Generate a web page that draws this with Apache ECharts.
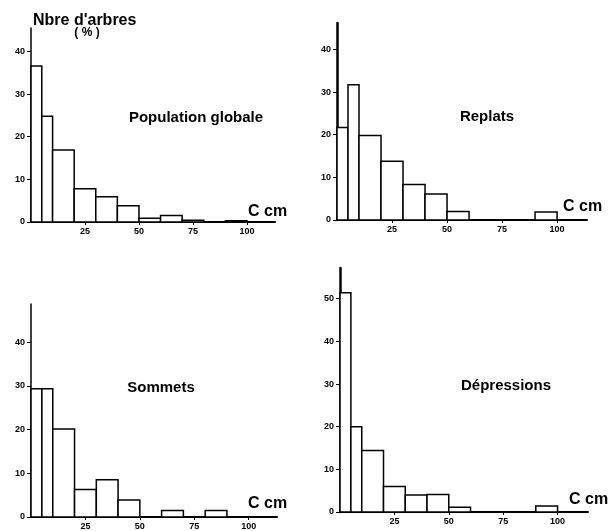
<!DOCTYPE html>
<html>
<head>
<meta charset="utf-8">
<script src="https://cdn.jsdelivr.net/npm/echarts@6/dist/echarts.min.js"></script>
<style>
html, body { margin: 0; padding: 0; background: #fff; }
#main { width: 608px; height: 531px; }
</style>
</head>
<body>
<div id="main"></div>
<script>
// classes de circonference (cm)
var binStart = [0, 5, 10, 20, 30, 40, 50, 60, 70, 80, 90];
var binEnd = [5, 10, 20, 30, 40, 50, 60, 70, 80, 90, 100];
// % d'arbres par classe
var globale = [36.6, 24.8, 16.9, 7.8, 5.9, 3.8, 0.9, 1.5, 0.4, 0, 0.3];
var replats = [21.7, 31.7, 19.8, 13.8, 8.3, 6.1, 2.0, 0, 0, 0, 1.9];
var sommets = [29.3, 29.3, 20.1, 6.3, 8.5, 3.9, 0, 1.5, 0, 1.5, 0];
var depressions = [51.4, 20.0, 14.4, 6.0, 4.0, 4.1, 1.1, 0, 0, 0, 1.4];
var xTicks = [25, 50, 75, 100];
var yTicks = [0, 10, 20, 30, 40];
var yTicksDep = [0, 10, 20, 30, 40, 50];
var panelNames = ['Population globale', 'Replats', 'Sommets', 'Dépressions'];

var font = '"Liberation Sans", Arial, sans-serif';
var panels = [globale, replats, sommets, depressions];
var grids = [
	{left: 31, top: 28, width: 244, height: 194},
	{left: 337, top: 23, width: 250, height: 197},
	{left: 31, top: 304, width: 246, height: 213},
	{left: 340, top: 268, width: 248, height: 244}
];
var yMax = [45.5, 46.2, 48.7, 57.2];
var xMax = [113, 113.6, 113, 114];
var yLineWidth = [1.5, 2.5, 1.5, 2.5];

function renderBin(params, api) {
	var p0 = api.coord([api.value(0), api.value(2)]);
	var p1 = api.coord([api.value(1), 0]);
	return {
		type: 'rect',
		shape: {x: p0[0], y: p0[1], width: p1[0] - p0[0], height: p1[1] - p0[1]},
		style: {fill: '#fff', stroke: '#000', lineWidth: 1.5}
	};
}

var xAxes = [], yAxes = [], series = [];
for (var i = 0; i < 4; i++) {
	var ticks = i == 3 ? yTicksDep : yTicks;
	xAxes.push({
		gridIndex: i,
		type: 'value',
		min: 0,
		max: xMax[i],
		axisLine: {show: true, onZero: false, lineStyle: {color: '#000', width: 2}},
		axisTick: {show: true, customValues: xTicks, length: 3, lineStyle: {color: '#000', width: 1}},
		axisLabel: {customValues: xTicks, color: '#000', fontSize: 9, fontWeight: 'bold', fontFamily: font, margin: 5},
		splitLine: {show: false}
	});
	yAxes.push({
		gridIndex: i,
		type: 'value',
		min: 0,
		max: yMax[i],
		axisLine: {show: true, onZero: false, lineStyle: {color: '#000', width: yLineWidth[i]}},
		axisTick: {show: true, customValues: ticks, length: 4, lineStyle: {color: '#000', width: 1}},
		axisLabel: {customValues: ticks, color: '#000', fontSize: 9, fontWeight: 'bold', fontFamily: font, margin: 6},
		splitLine: {show: false}
	});
	var data = [];
	for (var j = 0; j < binStart.length; j++) {
		data.push([binStart[j], binEnd[j], panels[i][j]]);
	}
	series.push({
		name: panelNames[i],
		type: 'custom',
		xAxisIndex: i,
		yAxisIndex: i,
		renderItem: renderBin,
		encode: {x: [0, 1], y: 2},
		data: data,
		clip: false,
		silent: true,
		z: 1
	});
}

function txt(s, x, y, size, align) {
	return {
		type: 'text',
		x: x,
		y: y,
		z: 10,
		style: {
			text: s,
			fill: '#000',
			font: 'bold ' + size + 'px ' + font,
			textAlign: align || 'center',
			textVerticalAlign: 'middle'
		}
	};
}

var myChart = echarts.init(document.getElementById('main'));
var option = {
	backgroundColor: '#fff',
	animation: false,
	grid: grids,
	xAxis: xAxes,
	yAxis: yAxes,
	series: series,
	graphic: [
		txt("Nbre d'arbres", 33, 21, 16, 'left'),
		txt('( % )', 87, 33, 12),
		txt(panelNames[0], 196, 118, 15),
		txt(panelNames[1], 487, 117, 15),
		txt(panelNames[2], 161, 388, 15),
		txt(panelNames[3], 506, 386, 15),
		txt('C cm', 248, 212, 16, 'left'),
		txt('C cm', 563, 207, 16, 'left'),
		txt('C cm', 248, 504, 16, 'left'),
		txt('C cm', 569, 500, 16, 'left')
	]
};
myChart.setOption(option);
</script>
</body>
</html>
